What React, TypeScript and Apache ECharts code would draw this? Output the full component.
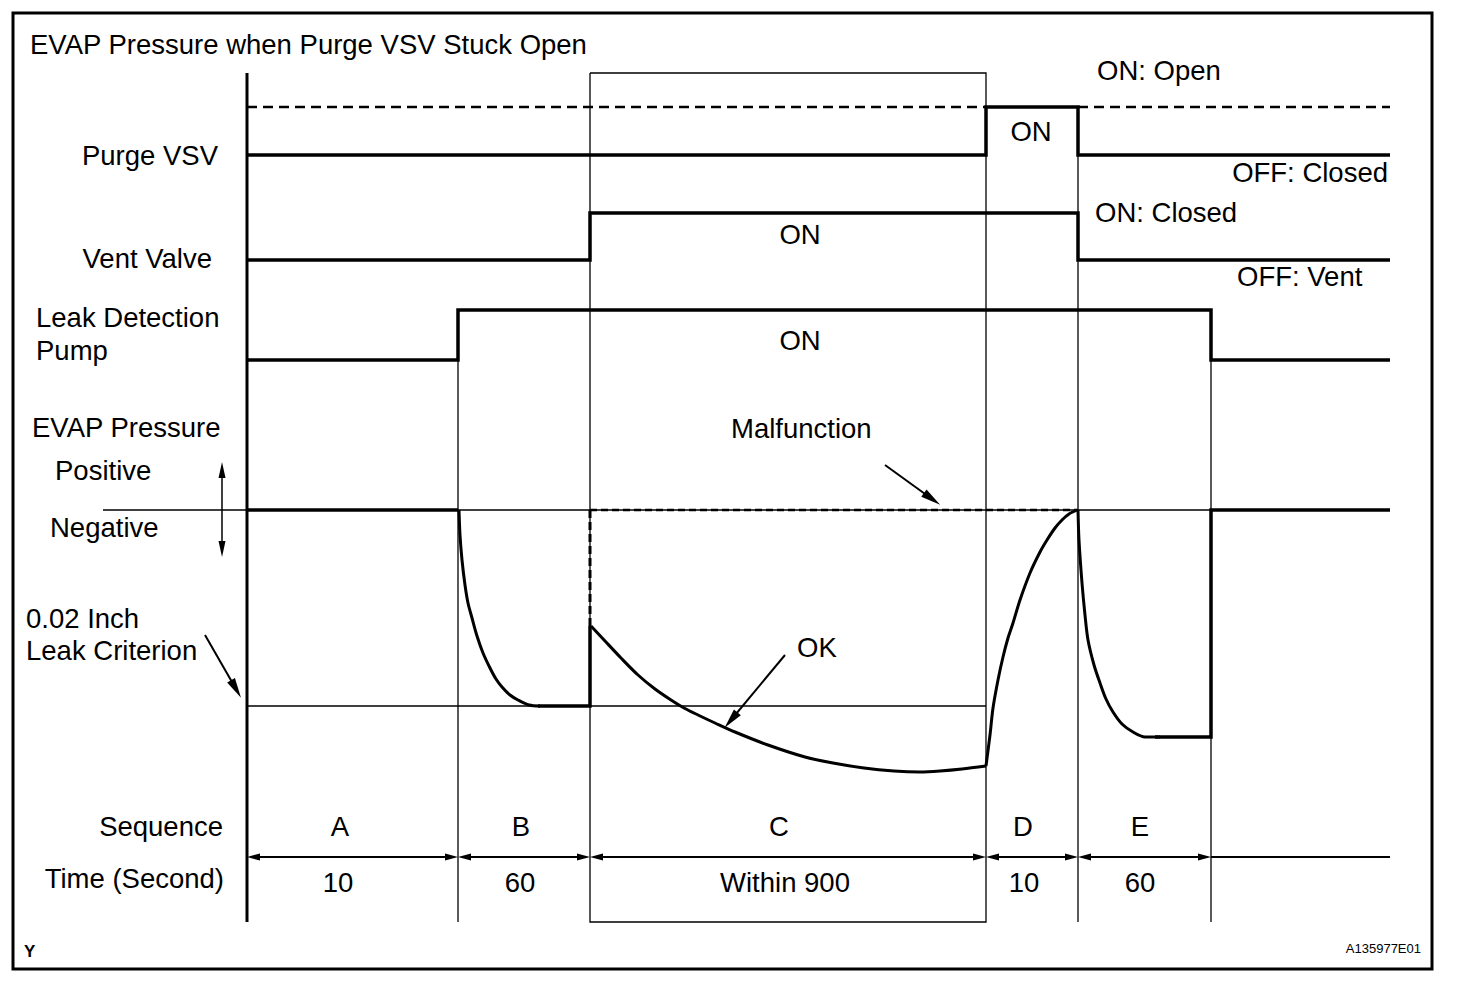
import React, { useEffect, useRef } from "react";
import * as echarts from "echarts";

const W = 1472;
const H = 990;

// ---- Timing diagram data (diagram units: x along time, y down the page) ----
const phaseNames = ["A", "B", "C", "D", "E"];
const phaseDurations = ["10", "60", "Within 900", "10", "60"];
const phaseBounds = [247, 458, 590, 986, 1078, 1211, 1390];
const phaseLabelX = [340, 521, 779, 1023, 1140];
const durationLabelX = [338, 520, 785, 1024, 1140];

// states per phase (A, B, C, D, E, after E): 0 = OFF, 1 = ON
const purgeStates = [0, 0, 0, 1, 0, 0];
const ventStates = [0, 0, 1, 1, 0, 0];
const pumpStates = [0, 1, 1, 1, 1, 0];
// level of each row for [OFF, ON]
const purgeLevels = [155, 107];
const ventLevels = [260, 213];
const pumpLevels = [360, 310];

const pressureZero = 510;
const leakCriterion = 706;

// EVAP pressure trace
const pressureA = [[247, 510], [458, 510]];
const pressureBDecay = [
  [459, 510], [460, 535], [462, 560], [465, 585], [468, 603], [472, 618],
  [477, 636], [483, 653], [490, 668], [496, 679], [502, 687], [510, 695],
  [518, 700], [529, 705], [540, 706],
];
const pressureBHold = [[538, 706], [590, 706], [590, 626]];
const pressureCDecay = [
  [591, 626], [605, 641], [621, 658], [638, 675], [655, 689], [671, 700],
  [684, 708], [698, 715], [715, 723], [735, 732], [768, 745], [805, 757],
  [833, 763], [864, 768], [894, 771], [920, 772], [940, 771], [962, 769],
  [986, 766],
];
const pressureDRise = [
  [986, 766], [990, 735], [993, 708], [998, 680], [1003, 657], [1008, 638],
  [1013, 623], [1020, 600], [1030, 573], [1040, 552], [1047, 540], [1055, 528],
  [1062, 520], [1069, 514], [1077, 510],
];
const pressureEDecay = [
  [1078, 510], [1079, 540], [1082, 583], [1085, 615], [1088, 640], [1094, 665],
  [1100, 683], [1106, 699], [1113, 712], [1122, 724], [1133, 732], [1145, 737],
  [1160, 737],
];
const pressureEHold = [[1155, 737], [1211, 737], [1211, 510], [1390, 510]];
const malfunctionTrace = [[590, 510], [1078, 510]];
const malfunctionRise = [[590, 626], [590, 510]];

const FONT = '"Liberation Sans", Arial, Helvetica, sans-serif';
const FS = 27.5;

function stepPoints(states: number[], levels: number[]) {
  const pts: number[][] = [];
  states.forEach((s, i) => {
    pts.push([phaseBounds[i], levels[s]]);
    pts.push([phaseBounds[i + 1], levels[s]]);
  });
  return pts;
}

function offRuns(states: number[], level: number) {
  const runs: number[][][] = [];
  let start = -1;
  for (let i = 0; i <= states.length; i++) {
    const off = i < states.length && states[i] === 0;
    if (off && start < 0) start = i;
    if (!off && start >= 0) {
      runs.push([[phaseBounds[start], level], [phaseBounds[i], level]]);
      start = -1;
    }
  }
  return runs;
}

function seg(data: number[][], width: number, opts: any = {}) {
  return {
    type: "line",
    data,
    symbol: "none",
    showSymbol: false,
    silent: true,
    smooth: opts.smooth || false,
    z: opts.z || 3,
    lineStyle: {
      color: "#000",
      width,
      type: opts.dash || "solid",
      cap: "butt",
      join: "miter",
    },
    emphasis: { disabled: true },
  };
}

function arrows(data: any[], symbol: string[], size: number[], width: number) {
  return {
    type: "line",
    data: [],
    silent: true,
    markLine: {
      silent: true,
      animation: false,
      symbol,
      symbolSize: size,
      label: { show: false },
      emphasis: { disabled: true },
      itemStyle: { color: "#000" },
      lineStyle: { color: "#000", width, type: "solid" },
      data,
    },
  };
}

function txt(text: string, x: number, y: number, align: string, size = FS, weight = "normal") {
  return {
    type: "text",
    x,
    y,
    z: 10,
    silent: true,
    style: {
      text,
      fill: "#000",
      font: `${weight} ${size}px ${FONT}`,
      textAlign: align,
      align,
      textVerticalAlign: "middle",
      verticalAlign: "middle",
    },
  };
}

export default function App() {
  const ref = useRef<HTMLDivElement>(null);

  useEffect(() => {
    if (!ref.current) return;
    const chart = echarts.init(ref.current, null, { renderer: "svg" });

    const series: any[] = [];
    // structural lines
    series.push(seg([[247, 73], [247, 922]], 3));
    series.push(seg([[590, 73], [986, 73], [986, 922], [590, 922], [590, 73]], 1.3, { z: 2 }));
    series.push(seg([[phaseBounds[1], pumpLevels[1]], [phaseBounds[1], 922]], 1.3, { z: 2 }));
    series.push(seg([[phaseBounds[4], purgeLevels[1]], [phaseBounds[4], 922]], 1.3, { z: 2 }));
    series.push(seg([[phaseBounds[5], pumpLevels[1]], [phaseBounds[5], 922]], 1.3, { z: 2 }));

    // signal rows
    series.push(seg(stepPoints(purgeStates, purgeLevels), 3.5));
    offRuns(purgeStates, purgeLevels[1]).forEach((r) => series.push(seg(r, 2.5, { dash: [10, 6] })));
    series.push(seg(stepPoints(ventStates, ventLevels), 3.5));
    series.push(seg(stepPoints(pumpStates, pumpLevels), 3.5));

    // pressure references
    series.push(seg([[103, pressureZero], [phaseBounds[5], pressureZero]], 1.3, { z: 2 }));
    series.push(seg([[phaseBounds[0], leakCriterion], [phaseBounds[3], leakCriterion]], 1.3, { z: 2 }));
    series.push(seg(malfunctionTrace, 2.4, { dash: [7, 4] }));
    series.push(seg(malfunctionRise, 3, { dash: [8, 4] }));

    // pressure trace
    series.push(seg(pressureA, 3.5));
    series.push(seg(pressureBDecay, 3, { smooth: 0.3 }));
    series.push(seg(pressureBHold, 3.5));
    series.push(seg(pressureCDecay, 3, { smooth: 0.3 }));
    series.push(seg(pressureDRise, 3, { smooth: 0.3 }));
    series.push(seg(pressureEDecay, 3, { smooth: 0.3 }));
    series.push(seg(pressureEHold, 3.5));

    // time row
    series.push(seg([[phaseBounds[5], 857], [phaseBounds[6], 857]], 2));
    const timeArrows = phaseNames.map((_, i) => [
      { coord: [phaseBounds[i] + 6.5, 857] },
      { coord: [phaseBounds[i + 1] - 6.5, 857] },
    ]);
    series.push(arrows(timeArrows, ["triangle", "triangle"], [7, 13], 2));

    // annotation arrows
    series.push(
      arrows(
        [
          [{ coord: [205, 635] }, { coord: [236, 689] }],
          [{ coord: [885, 465] }, { coord: [932, 499] }],
          [{ coord: [785, 655] }, { coord: [731, 720] }],
        ],
        ["none", "triangle"],
        [9, 20],
        2
      )
    );
    series.push(
      arrows([[{ coord: [222, 470] }, { coord: [222, 549] }]], ["triangle", "triangle"], [7, 16], 1.5)
    );

    const graphic: any[] = [
      {
        type: "rect",
        z: 1,
        silent: true,
        shape: { x: 13, y: 13, width: 1419, height: 956 },
        style: { fill: "none", stroke: "#000", lineWidth: 3 },
      },
      txt("EVAP Pressure when Purge VSV Stuck Open", 30, 44, "left"),
      txt("ON: Open", 1097, 70, "left"),
      txt("Purge VSV", 218, 155, "right"),
      txt("ON", 1031, 131, "center"),
      txt("OFF: Closed", 1388, 172, "right"),
      txt("ON: Closed", 1095, 212, "left"),
      txt("Vent Valve", 212, 258, "right"),
      txt("ON", 800, 234, "center"),
      txt("OFF: Vent", 1237, 276, "left"),
      txt("Leak Detection", 36, 317, "left"),
      txt("Pump", 36, 350, "left"),
      txt("ON", 800, 340, "center"),
      txt("EVAP Pressure", 32, 427, "left"),
      txt("Malfunction", 731, 428, "left"),
      txt("Positive", 55, 470, "left"),
      txt("Negative", 50, 527, "left"),
      txt("0.02 Inch", 26, 618, "left"),
      txt("Leak Criterion", 26, 650, "left"),
      txt("OK", 797, 647, "left"),
      txt("Sequence", 223, 826, "right"),
      txt("Time (Second)", 224, 878, "right"),
      txt("Y", 24, 951, "left", 17, "bold"),
      txt("A135977E01", 1421, 948, "right", 13),
    ];
    phaseNames.forEach((n, i) => graphic.push(txt(n, phaseLabelX[i], 826, "center")));
    phaseDurations.forEach((d, i) => graphic.push(txt(d, durationLabelX[i], 882, "center")));

    chart.setOption({
      animation: false,
      backgroundColor: "#fff",
      grid: { left: 0, right: 0, top: 0, bottom: 0, containLabel: false },
      xAxis: { type: "value", min: 0, max: W, show: false },
      yAxis: { type: "value", min: 0, max: H, inverse: true, show: false },
      tooltip: { show: false },
      series,
      graphic,
    });

    return () => chart.dispose();
  }, []);

  return (
    <div
      ref={ref}
      style={{ position: "absolute", left: 0, top: 0, width: W, height: H, background: "#fff" }}
    />
  );
}
